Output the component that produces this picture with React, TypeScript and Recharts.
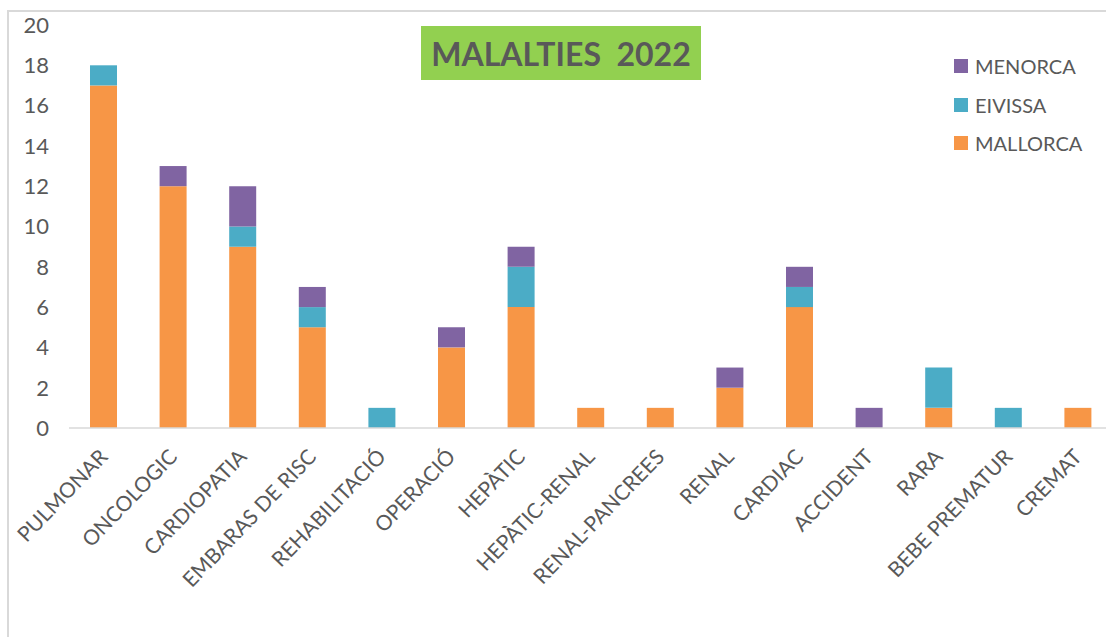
import React from "react";
import { BarChart, Bar, XAxis, YAxis } from "recharts";

const categories = [
  "PULMONAR", "ONCOLOGIC", "CARDIOPATIA", "EMBARAS DE RISC", "REHABILITACIÓ",
  "OPERACIÓ", "HEPÀTIC", "HEPÀTIC-RENAL", "RENAL-PANCREES", "RENAL",
  "CARDIAC", "ACCIDENT", "RARA", "BEBE PREMATUR", "CREMAT",
];
const mallorca = [17, 12, 9, 5, 0, 4, 6, 1, 1, 2, 6, 0, 1, 0, 1];
const eivissa = [1, 0, 1, 1, 1, 0, 2, 0, 0, 0, 1, 0, 2, 1, 0];
const menorca = [0, 1, 2, 1, 0, 1, 1, 0, 0, 1, 1, 1, 0, 0, 0];
const yTicks = [0, 2, 4, 6, 8, 10, 12, 14, 16, 18, 20];
const title = "MALALTIES  2022";

const seriesInfo = [
  { key: "MENORCA", color: "#8064A2" },
  { key: "EIVISSA", color: "#4BACC6" },
  { key: "MALLORCA", color: "#F79646" },
];

const data = categories.map((c, i) => ({
  name: c,
  MALLORCA: mallorca[i],
  EIVISSA: eivissa[i],
  MENORCA: menorca[i],
}));

const FONT = "Lato, 'Open Sans', sans-serif";
const TEXT = "#595959";

const XTick = (props: any) => {
  const { x, y, payload } = props;
  const ax = x + 5;
  const ay = y + 22;
  return (
    <text
      x={ax}
      y={ay}
      transform={`rotate(-46, ${ax}, ${ay})`}
      textAnchor="end"
      fill={TEXT}
      fontSize={21}
      fontFamily={FONT}
    >
      {payload.value}
    </text>
  );
};

export default function App() {
  return (
    <div
      style={{
        position: "absolute",
        left: 0,
        top: 0,
        width: 1106,
        height: 637,
        overflow: "hidden",
        background: "#fff",
        fontFamily: FONT,
      }}
    >
      <div
        style={{
          position: "absolute",
          left: 7,
          top: 10,
          width: 2000,
          height: 2000,
          border: "2px solid #d9d9d9",
        }}
      />
      <div style={{ position: "absolute", left: 0, top: 0 }}>
        <BarChart
          width={1120}
          height={637}
          data={data}
          margin={{ top: 25, right: 7, bottom: 0, left: 0 }}
          barSize={27}
        >
          <XAxis
            dataKey="name"
            interval={0}
            height={209}
            tick={<XTick />}
            tickLine={false}
            axisLine={{ stroke: "#d9d9d9", strokeWidth: 1.5 }}
          />
          <YAxis
            width={69}
            domain={[0, 20]}
            ticks={yTicks}
            tickLine={false}
            axisLine={false}
            tickMargin={14}
            tick={{ fill: TEXT, fontSize: 22, fontFamily: FONT }}
          />
          <Bar dataKey="MALLORCA" stackId="a" fill="#F79646" isAnimationActive={false} />
          <Bar dataKey="EIVISSA" stackId="a" fill="#4BACC6" isAnimationActive={false} />
          <Bar dataKey="MENORCA" stackId="a" fill="#8064A2" isAnimationActive={false} />
        </BarChart>
      </div>
      <div
        style={{
          position: "absolute",
          left: 421,
          top: 26,
          width: 280,
          height: 54,
          background: "#92D050",
          display: "flex",
          alignItems: "center",
          justifyContent: "center",
          color: TEXT,
          fontWeight: 700,
          fontSize: 32,
          whiteSpace: "pre",
        }}
      >
        {title}
      </div>
      {seriesInfo.map((s, i) => (
        <div
          key={s.key}
          style={{
            position: "absolute",
            left: 954,
            top: 66 + i * 38.5 - 13,
            height: 26,
            display: "flex",
            alignItems: "center",
            color: TEXT,
            fontSize: 20,
          }}
        >
          <span style={{ width: 14, height: 14, background: s.color, display: "inline-block", marginRight: 7 }} />
          <span>{s.key}</span>
        </div>
      ))}
    </div>
  );
}
